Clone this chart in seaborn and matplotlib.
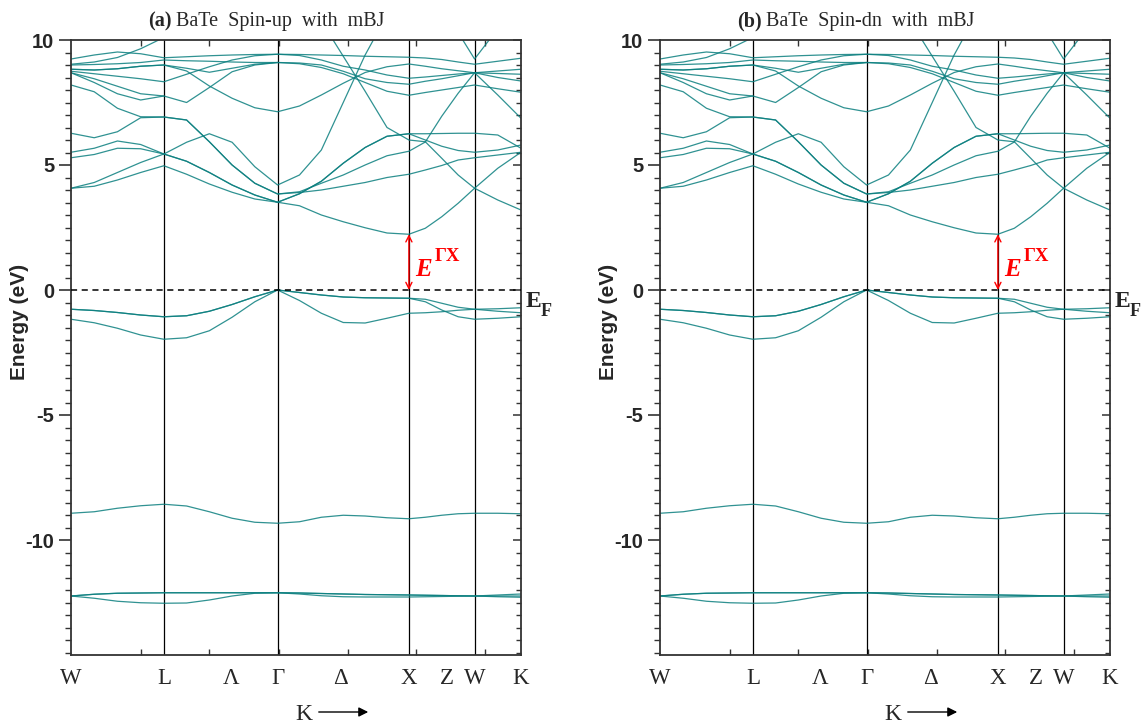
import numpy as np
import pandas as pd
import matplotlib
matplotlib.use("Agg")
import matplotlib.pyplot as plt
from matplotlib.ticker import MultipleLocator, FixedLocator, NullFormatter
import seaborn as sns

nan = float("nan")

# ---------------- data ----------------
sym_points = ["W", "L", "Γ", "X", "W", "K"]
seg_lengths = [0.7071, 0.8660, 1.0000, 0.5000, 0.3536]          # W-L, L-Γ, Γ-X, X-W, W-K (2π/a)
seg_fracs = [[0.25, 0.5, 0.75, 1.0],
             [0.2, 0.4, 0.6, 0.8, 1.0],
             [1/6, 2/6, 3/6, 4/6, 5/6, 1.0],
             [0.25, 0.5, 0.75, 1.0],
             [0.5, 1.0]]
k_tick_labels = ["W", "L", "Λ", "Γ", "Δ", "X", "Z", "W", "K"]
gap_EgX = 2.23   # eV, Γ -> X gap

# energies (eV) at the k samples: W .. L .. Γ .. X .. W .. K (22 samples)
vb_1 = [-0.77,-0.82,-0.90,-1.00,-1.07,-1.03,-0.85,-0.58,-0.27,0.00,-0.10,-0.20,-0.28,-0.31,-0.32,-0.33,-0.37,-0.53,-0.69,-0.77,-0.75,-0.71]
vb_2 = [-0.77,-0.82,-0.90,-1.00,-1.07,-1.03,-0.85,-0.58,-0.27,0.00,-0.42,-0.93,-1.30,-1.32,-1.13,-0.93,-0.91,-0.87,-0.81,-0.77,-0.85,-0.91]
vb_3 = [-1.17,-1.31,-1.53,-1.80,-1.97,-1.91,-1.63,-1.09,-0.47,0.00,-0.10,-0.20,-0.28,-0.31,-0.32,-0.33,-0.47,-0.80,-1.07,-1.17,-1.13,-1.07]
sb_1 = [-8.93,-8.87,-8.73,-8.63,-8.57,-8.64,-8.87,-9.13,-9.29,-9.33,-9.27,-9.09,-9.01,-9.04,-9.11,-9.15,-9.09,-9.01,-8.95,-8.93,-8.93,-8.95]
sb_2 = [-12.24,-12.33,-12.45,-12.51,-12.53,-12.52,-12.40,-12.24,-12.13,-12.11,-12.16,-12.23,-12.27,-12.28,-12.28,-12.28,-12.27,-12.26,-12.25,-12.24,-12.27,-12.29]
sb_3 = [-12.24,-12.17,-12.13,-12.12,-12.11,-12.11,-12.11,-12.11,-12.11,-12.11,-12.12,-12.14,-12.16,-12.18,-12.19,-12.20,-12.21,-12.22,-12.23,-12.24,-12.20,-12.16]
sb_4 = [-12.24,-12.17,-12.13,-12.12,-12.11,-12.11,-12.11,-12.11,-12.11,-12.11,-12.12,-12.14,-12.16,-12.18,-12.19,-12.20,-12.21,-12.22,-12.23,-12.24,-12.24,-12.24]
cb_1 = [4.07,4.15,4.40,4.70,4.97,4.63,4.24,3.91,3.64,3.51,3.37,3.00,2.73,2.49,2.28,2.23,2.47,2.93,3.47,4.07,4.87,5.51]
cb_2 = [4.07,4.30,4.70,5.10,5.44,5.15,4.70,4.20,3.80,3.51,3.85,4.35,5.07,5.70,6.15,6.25,6.25,6.26,6.27,6.27,6.20,5.67]
cb_3 = [5.51,5.67,5.96,5.82,5.44,5.15,4.70,4.20,3.80,3.51,3.85,4.35,5.07,5.70,6.15,6.25,6.00,5.75,5.58,5.51,5.60,5.80]
cb_4 = [8.20,7.93,7.27,6.93,6.92,6.80,5.93,5.00,4.27,3.84,3.93,4.27,4.60,5.00,5.37,5.55,5.92,6.95,7.87,8.69,7.80,6.87]
cb_5 = [6.27,6.09,6.33,6.89,6.92,6.80,5.93,5.00,4.27,3.84,3.90,4.00,4.15,4.30,4.50,4.63,4.80,4.98,5.20,5.29,5.40,5.51]
cb_6 = [5.29,5.42,5.67,5.65,5.44,5.91,6.25,5.91,4.93,4.20,4.60,5.60,7.50,9.40,11.00,nan,nan,nan,nan,nan,nan,nan]
cb_7 = [nan,nan,nan,nan,nan,nan,nan,nan,nan,nan,nan,10.75,9.35,7.95,6.50,6.00,5.93,5.27,4.60,4.07,3.60,3.20]
cb_8 = [9.24,9.40,9.52,9.45,9.29,9.33,9.37,9.40,9.42,9.43,9.42,9.40,9.38,9.35,9.33,9.31,9.28,9.22,9.12,9.03,9.15,9.27]
cb_9 = [9.03,9.12,9.30,9.65,10.10,10.60,nan,nan,nan,nan,nan,nan,nan,nan,nan,nan,nan,nan,nan,nan,nan,nan]
cb_10 = [9.00,9.02,9.05,9.10,9.20,9.17,9.15,9.12,9.10,9.10,9.05,8.90,8.65,8.30,7.95,7.79,7.90,8.00,8.10,8.20,8.05,7.91]
cb_11 = [8.83,8.80,8.85,8.95,9.00,8.87,8.71,8.87,9.03,9.10,9.08,9.00,8.75,8.45,8.30,8.23,8.35,8.45,8.57,8.69,8.66,8.63]
cb_12 = [8.83,8.80,8.85,8.95,9.00,8.76,8.16,7.67,7.29,7.13,7.36,7.80,8.27,8.70,8.93,9.04,8.95,8.85,8.77,8.69,8.76,8.83]
cb_13 = [8.75,8.65,8.55,8.45,8.33,8.63,8.93,9.20,9.37,9.43,9.38,9.20,8.95,8.80,8.60,8.47,8.52,8.58,8.64,8.69,8.50,8.36]
cb_14 = [8.69,8.45,8.15,7.85,7.76,7.50,8.10,8.73,9.00,9.10,nan,nan,nan,nan,nan,nan,nan,nan,nan,nan,nan,nan]
cb_15 = [8.69,8.30,7.85,7.60,7.76,nan,nan,nan,nan,nan,nan,nan,nan,nan,nan,nan,nan,nan,nan,nan,nan,nan]
cb_16 = [nan,nan,nan,nan,nan,nan,nan,nan,nan,nan,nan,nan,nan,nan,nan,nan,nan,11.30,10.30,9.24,10.45,11.60]

bands = {"vb_1": vb_1, "vb_2": vb_2, "vb_3": vb_3, "sb_1": sb_1, "sb_2": sb_2, "sb_3": sb_3,
         "sb_4": sb_4, "cb_1": cb_1, "cb_2": cb_2, "cb_3": cb_3, "cb_4": cb_4, "cb_5": cb_5,
         "cb_6": cb_6, "cb_7": cb_7, "cb_8": cb_8, "cb_9": cb_9, "cb_10": cb_10, "cb_11": cb_11,
         "cb_12": cb_12, "cb_13": cb_13, "cb_14": cb_14, "cb_15": cb_15, "cb_16": cb_16}

panels = [("(a)", "BaTe  Spin-up  with  mBJ"), ("(b)", "BaTe  Spin-dn  with  mBJ")]

# ---------------- build k path ----------------
k_samples = [0.0]
sym_k = [0.0]
start = 0.0
for L, fr in zip(seg_lengths, seg_fracs):
    for f in fr:
        k_samples.append(start + f * L)
    start += L
    sym_k.append(start)
kmax = sym_k[-1]

rows = []
for name, vals in bands.items():
    for kk, e in zip(k_samples, vals):
        rows.append((name, kk, e))
df = pd.DataFrame(rows, columns=["band", "k", "E"]).dropna()

# ---------------- style ----------------
sns.set_style("ticks")
plt.rcParams["font.family"] = ["Liberation Sans", "DejaVu Sans"]
plt.rcParams["axes.unicode_minus"] = False

TEAL = "#0b7f7f"
W_PX, H_PX = 1148, 727
fig = plt.figure(figsize=(W_PX / 100, H_PX / 100), dpi=100)

serif = ["Liberation Serif", "DejaVu Serif"]

panel_left_px = [71, 660]
ax_w_px = 450
ax_top_px, ax_bot_px = 40, 655
ylo, yhi = -14.6, 10.0

xminor_frac = [70/450, 138/450, 208/450, 277/450, 345/450, 414/450]
lab_k = [sym_k[0], sym_k[1], None, sym_k[2], None, sym_k[3], None, sym_k[4], sym_k[5]]
lab_px_off = {2: 160, 4: 270, 6: 376}   # Λ, Δ, Z offsets in px from left edge

for p, (tag, rest) in enumerate(panels):
    lpx = panel_left_px[p]
    ax = fig.add_axes([lpx / W_PX, 1 - ax_bot_px / H_PX, ax_w_px / W_PX,
                       (ax_bot_px - ax_top_px) / H_PX])
    sns.lineplot(data=df, x="k", y="E", units="band", estimator=None, sort=False,
                 color=TEAL, linewidth=0.9, alpha=0.85, ax=ax, legend=False)
    ax.set_xlim(0, kmax)
    ax.set_ylim(ylo, yhi)
    for kk in sym_k[1:-1]:
        ax.axvline(kk, color="black", lw=0.9, zorder=1)
    ax.axhline(0, color="black", lw=1.1, ls=(0, (4, 3)), zorder=3)

    for s in ax.spines.values():
        s.set_color("#333333")
        s.set_linewidth(1.3)

    pos = []
    for i, kk in enumerate(lab_k):
        if kk is None:
            kk = lab_px_off[i] / ax_w_px * kmax
        pos.append(kk)
    ax.set_xticks(pos)
    ax.set_xticklabels(k_tick_labels, family=serif, fontsize=16.5)
    ax.xaxis.set_minor_locator(FixedLocator([f * kmax for f in xminor_frac]))
    ax.tick_params(axis="x", which="major", length=0, pad=9)
    ax.tick_params(axis="x", which="minor", direction="in", length=4, width=1,
                   top=True, bottom=True, color="#333333")
    ax.set_xlabel("")

    ax.yaxis.set_major_locator(FixedLocator([10, 5, 0, -5, -10]))
    ax.yaxis.set_minor_locator(MultipleLocator(0.5))
    ax.set_yticklabels(["10", "5", "0", "-5", "-10"], fontsize=14.5, fontweight="bold")
    ax.tick_params(axis="y", which="major", direction="out", length=9, width=1.2,
                   color="#333333", pad=3)
    ax.tick_params(axis="y", which="minor", direction="out", length=4.5, width=1,
                   color="#333333")
    sec = ax.secondary_yaxis("right")
    sec.yaxis.set_major_locator(FixedLocator([10, 5, 0, -5, -10]))
    sec.yaxis.set_minor_locator(MultipleLocator(0.5))
    sec.yaxis.set_major_formatter(NullFormatter())
    sec.tick_params(which="major", direction="in", length=6, width=1.1, color="#333333")
    sec.tick_params(which="minor", direction="in", length=3.5, width=1, color="#333333")
    sec.spines["right"].set_visible(False)

    ax.set_ylabel("Energy (eV)", fontsize=15, fontweight="bold")
    ax.yaxis.set_label_coords(-42 / ax_w_px, (655 - 322) / (ax_bot_px - ax_top_px))

    kX = sym_k[3]
    ax.annotate("", xy=(kX, 0.0), xytext=(kX, gap_EgX),
                arrowprops=dict(arrowstyle="<->", color="red", lw=1.0,
                                mutation_scale=11, shrinkA=0, shrinkB=0), zorder=5)
    fig.text((lpx + 344) / W_PX, 1 - 276 / H_PX, "E", color="red", family=serif,
             fontsize=18, fontweight="bold", style="italic")
    fig.text((lpx + 364) / W_PX, 1 - 261 / H_PX, "ΓX", color="red", family=serif,
             fontsize=13.5, fontweight="bold")

    fig.text((lpx + 455) / W_PX, 1 - 307 / H_PX, "E", family=serif, fontsize=17,
             fontweight="bold")
    fig.text((lpx + 470) / W_PX, 1 - 316 / H_PX, "F", family=serif, fontsize=13,
             fontweight="bold")

    t1 = fig.text((lpx + 77) / W_PX, 1 - 26 / H_PX, tag, family=serif, fontsize=14.5,
                  fontweight="bold")
    fig.canvas.draw()
    bb = t1.get_window_extent()
    fig.text((bb.x1 + 4) / W_PX, 1 - 26 / H_PX, rest, family=serif, fontsize=14.5)

    fig.text((lpx + 224) / W_PX, 1 - 720 / H_PX, "K", family=serif, fontsize=17)
    fig.patches.append(matplotlib.patches.FancyArrowPatch(
        ((lpx + 245) / W_PX, 1 - 712 / H_PX), ((lpx + 300) / W_PX, 1 - 712 / H_PX),
        transform=fig.transFigure, arrowstyle="-|>", mutation_scale=14,
        color="black", lw=1.0))

fig.savefig("out.png", dpi=100)
